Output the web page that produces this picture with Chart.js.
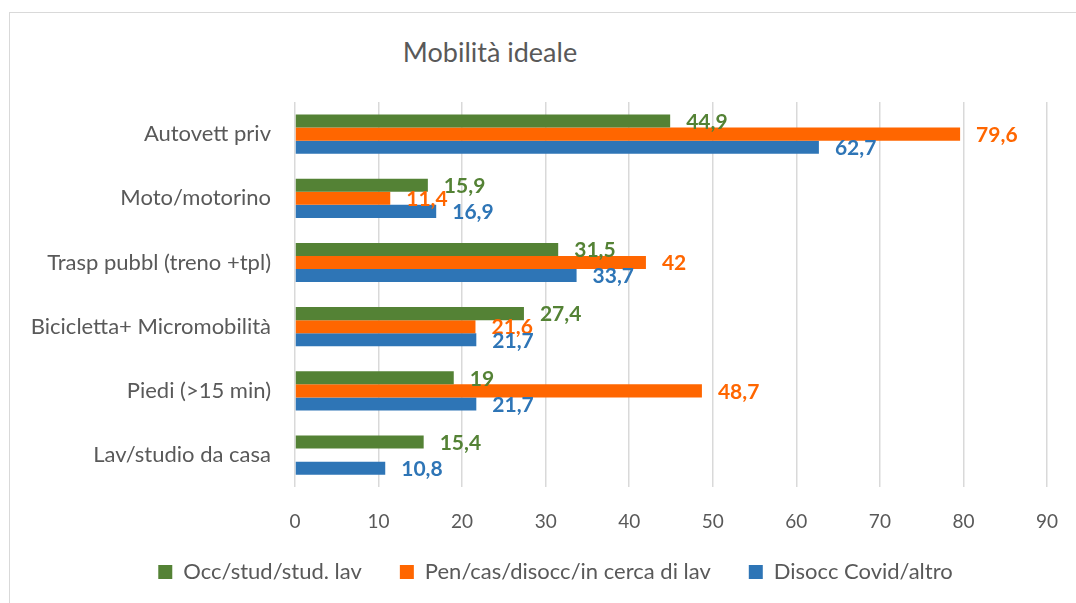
<!DOCTYPE html>
<html>
<head>
<meta charset="utf-8">
<script src="https://cdn.jsdelivr.net/npm/chart.js@4/dist/chart.umd.min.js"></script>
<style>
  html, body { margin: 0; padding: 0; background: #fff; overflow: hidden; width: 1076px; height: 603px; }
  #frame { position: absolute; left: 9px; top: 12px; width: 1090px; height: 620px;
           border-top: 1px solid #d9d9d9; border-left: 1px solid #d9d9d9; }
  #title { position: absolute; left: 0; width: 980px; top: 38px; text-align: center;
           font: 27px Lato, sans-serif; line-height: 27px; color: #595959; }
  #wrap { position: absolute; left: 10px; top: 13px; width: 1090px; height: 616px; }
</style>
</head>
<body>
<div id="frame"></div>
<div id="title">Mobilità ideale</div>
<div id="wrap"><canvas id="mobilita" width="1090" height="616"></canvas></div>
<script>
// data
const categories = ['Autovett priv', 'Moto/motorino', 'Trasp pubbl (treno +tpl)', 'Bicicletta+ Micromobilità', 'Piedi (>15 min)', 'Lav/studio da casa'];
const seriesNames = ['Occ/stud/stud. lav', 'Pen/cas/disocc/in cerca di lav', 'Disocc Covid/altro'];
const occValues = [44.9, 15.9, 31.5, 27.4, 19, 15.4];
const penValues = [79.6, 11.4, 42, 21.6, 48.7, null];
const covidValues = [62.7, 16.9, 33.7, 21.7, 21.7, 10.8];
const xTicks = [0, 10, 20, 30, 40, 50, 60, 70, 80, 90];

const seriesColors = ['#548235', '#ff6600', '#2e75b6'];
const textGrey = '#595959';

// value labels at the end of each bar, italian decimal comma
const barLabels = {
    id: 'barLabels',
    afterDatasetsDraw(chart) {
        const ctx = chart.ctx;
        ctx.save();
        ctx.font = 'bold 21px Lato, sans-serif';
        ctx.textAlign = 'left';
        ctx.textBaseline = 'middle';
        chart.data.datasets.forEach((ds, i) => {
            const meta = chart.getDatasetMeta(i);
            ctx.fillStyle = ds.backgroundColor;
            meta.data.forEach((bar, j) => {
                const v = ds.data[j];
                if (v === null || v === undefined) return;
                ctx.fillText(String(v).replace('.', ','), bar.x + 16, bar.y + 1);
            });
        });
        ctx.restore();
    }
};

// move the legend up under the axis labels and centre it like the original
const legendNudge = {
    id: 'legendNudge',
    afterLayout(chart) {
        chart.legend.top -= 33;
        chart.legend.bottom -= 33;
        chart.legend.left += 27;
        chart.legend.right += 27;
    }
};

var mobilita = document.getElementById('mobilita').getContext('2d');
var mobilitaChart = new Chart(mobilita, {
    type: 'bar',
    data: {
        labels: categories,
        datasets: [
            { label: seriesNames[0], data: occValues, backgroundColor: seriesColors[0] },
            { label: seriesNames[1], data: penValues, backgroundColor: seriesColors[1] },
            { label: seriesNames[2], data: covidValues, backgroundColor: seriesColors[2] }
        ]
    },
    options: {
        indexAxis: 'y',
        responsive: false,
        animation: false,
        categoryPercentage: 0.61,
        barPercentage: 1,
        layout: {
            padding: { top: 89, right: 53, bottom: 3, left: 0 }
        },
        scales: {
            x: {
                min: xTicks[0],
                max: xTicks[xTicks.length - 1],
                afterBuildTicks: (scale) => { scale.ticks = xTicks.map(v => ({ value: v })); },
                grid: { color: '#d9d9d9', lineWidth: 1.5, drawTicks: false },
                border: { display: false },
                ticks: { color: textGrey, padding: 23, font: { family: 'Lato', size: 19 } }
            },
            y: {
                afterFit: (scale) => { scale.width = 285; },
                grid: { display: false, drawTicks: false },
                border: { display: false },
                ticks: { color: textGrey, padding: 24, font: { family: 'Lato', size: 22 } }
            }
        },
        plugins: {
            legend: {
                position: 'bottom',
                labels: {
                    color: textGrey,
                    boxWidth: 14,
                    boxHeight: 14,
                    padding: 38,
                    font: { family: 'Lato', size: 22 }
                }
            },
            tooltip: { enabled: false }
        }
    },
    plugins: [barLabels, legendNudge]
});
</script>
</body>
</html>
